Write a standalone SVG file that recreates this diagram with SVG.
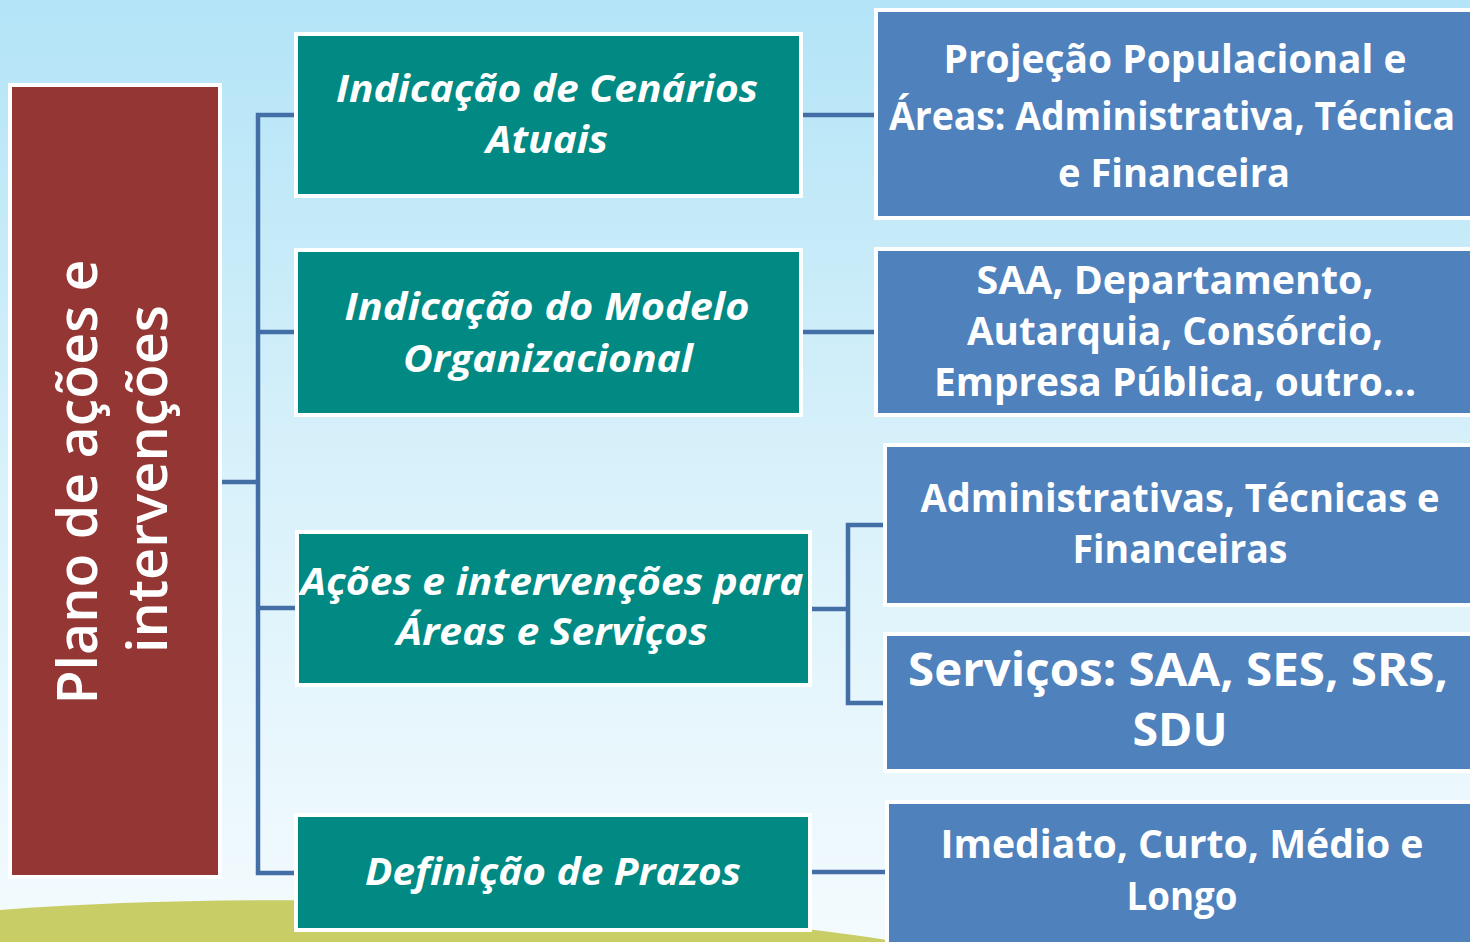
<svg xmlns="http://www.w3.org/2000/svg" width="1470" height="942" viewBox="0 0 1470 942">
  <defs>
    <linearGradient id="sky" x1="0" y1="0" x2="0" y2="1">
      <stop offset="0" stop-color="#b3e4f7"/>
      <stop offset="0.5" stop-color="#d8f1fa"/>
      <stop offset="1" stop-color="#f4fbfe"/>
    </linearGradient>
    <style>
      .conn { fill: none; stroke: #446ea6; stroke-width: 4.5; stroke-linejoin: miter; }
      .root { fill: #943634; stroke: #ffffff; stroke-width: 4; }
      .teal { fill: #008a83; stroke: #ffffff; stroke-width: 4; }
      .blue { fill: #4f81bd; stroke: #ffffff; stroke-width: 4; }
      .rt { font-family: "Open Sans", "Noto Sans", "Liberation Sans", sans-serif; font-size: 56px; font-weight: 600; fill: #ffffff; text-anchor: middle; }
      .tt { font-family: "Open Sans", "Noto Sans", "Liberation Sans", sans-serif; font-size: 38px; font-weight: bold; font-style: italic; fill: #ffffff; text-anchor: middle; }
      .bt { font-family: "Open Sans", "Noto Sans", "Liberation Sans", sans-serif; font-size: 40px; font-weight: bold; fill: #ffffff; text-anchor: middle; }
      .bl { font-size: 47px; }
    </style>
  </defs>

  <g id="background">
    <rect x="0" y="0" width="1470" height="942" fill="url(#sky)"/>
    <path d="M0,942 L0,910 C120,901 260,898 420,902 C620,908 790,924 900,942 Z" fill="#c8cd66"/>
  </g>

  <g id="connectors">
    <path class="conn" d="M222,482 H258"/>
    <path class="conn" d="M296,115 H258 V873 H296"/>
    <path class="conn" d="M258,332 H296"/>
    <path class="conn" d="M258,608 H296"/>
    <path class="conn" d="M803,115 H875"/>
    <path class="conn" d="M803,332 H875"/>
    <path class="conn" d="M811,609 H848"/>
    <path class="conn" d="M884,525 H848 V703 H884"/>
    <path class="conn" d="M811,872 H886"/>
  </g>

  <g id="node-root">
    <rect class="root" x="10" y="85" width="210" height="792"/>
    <text class="rt" transform="translate(97,482) rotate(-90)" textLength="445" lengthAdjust="spacingAndGlyphs">Plano de ações e</text>
    <text class="rt" transform="translate(167,479) rotate(-90)" textLength="348" lengthAdjust="spacingAndGlyphs">intervenções</text>
  </g>

  <g id="node-cenarios">
    <rect class="teal" x="296" y="34" width="505" height="162"/>
    <text class="tt" x="547" y="102" textLength="422" lengthAdjust="spacingAndGlyphs">Indicação de Cenários</text>
    <text class="tt" x="547" y="153" textLength="122" lengthAdjust="spacingAndGlyphs">Atuais</text>
  </g>

  <g id="node-modelo">
    <rect class="teal" x="296" y="250" width="505" height="165"/>
    <text class="tt" x="547" y="320" textLength="405" lengthAdjust="spacingAndGlyphs">Indicação do Modelo</text>
    <text class="tt" x="548" y="372" textLength="290" lengthAdjust="spacingAndGlyphs">Organizacional</text>
  </g>

  <g id="node-acoes">
    <rect class="teal" x="297" y="532" width="513" height="153"/>
    <text class="tt" x="552" y="595" textLength="503" lengthAdjust="spacingAndGlyphs">Ações e intervenções para</text>
    <text class="tt" x="552" y="645" textLength="311" lengthAdjust="spacingAndGlyphs">Áreas e Serviços</text>
  </g>

  <g id="node-prazos">
    <rect class="teal" x="296" y="815" width="514" height="115"/>
    <text class="tt" x="553" y="885" textLength="376" lengthAdjust="spacingAndGlyphs">Definição de Prazos</text>
  </g>

  <g id="node-projecao">
    <rect class="blue" x="876" y="10" width="600" height="208"/>
    <text class="bt" x="1175" y="73" textLength="463" lengthAdjust="spacingAndGlyphs">Projeção Populacional e</text>
    <text class="bt" x="1172" y="130" textLength="566" lengthAdjust="spacingAndGlyphs">Áreas: Administrativa, Técnica</text>
    <text class="bt" x="1174" y="187" textLength="232" lengthAdjust="spacingAndGlyphs">e Financeira</text>
  </g>

  <g id="node-modelos">
    <rect class="blue" x="876" y="249" width="600" height="166"/>
    <text class="bt" x="1175" y="294" textLength="397" lengthAdjust="spacingAndGlyphs">SAA, Departamento,</text>
    <text class="bt" x="1175" y="345" textLength="416" lengthAdjust="spacingAndGlyphs">Autarquia, Consórcio,</text>
    <text class="bt" x="1175" y="396" textLength="482" lengthAdjust="spacingAndGlyphs">Empresa Pública, outro...</text>
  </g>

  <g id="node-areas">
    <rect class="blue" x="885" y="445" width="600" height="160"/>
    <text class="bt" x="1180" y="512" textLength="519" lengthAdjust="spacingAndGlyphs">Administrativas, Técnicas e</text>
    <text class="bt" x="1180" y="563" textLength="215" lengthAdjust="spacingAndGlyphs">Financeiras</text>
  </g>

  <g id="node-servicos">
    <rect class="blue" x="885" y="634" width="600" height="137"/>
    <text class="bt bl" x="1178" y="686" textLength="540" lengthAdjust="spacingAndGlyphs">Serviços: SAA, SES, SRS,</text>
    <text class="bt bl" x="1180" y="746" textLength="95" lengthAdjust="spacingAndGlyphs">SDU</text>
  </g>

  <g id="node-prazos-tipos">
    <rect class="blue" x="887" y="802" width="600" height="160"/>
    <text class="bt" x="1182" y="858" textLength="483" lengthAdjust="spacingAndGlyphs">Imediato, Curto, Médio e</text>
    <text class="bt" x="1182" y="910" textLength="111" lengthAdjust="spacingAndGlyphs">Longo</text>
  </g>
</svg>
